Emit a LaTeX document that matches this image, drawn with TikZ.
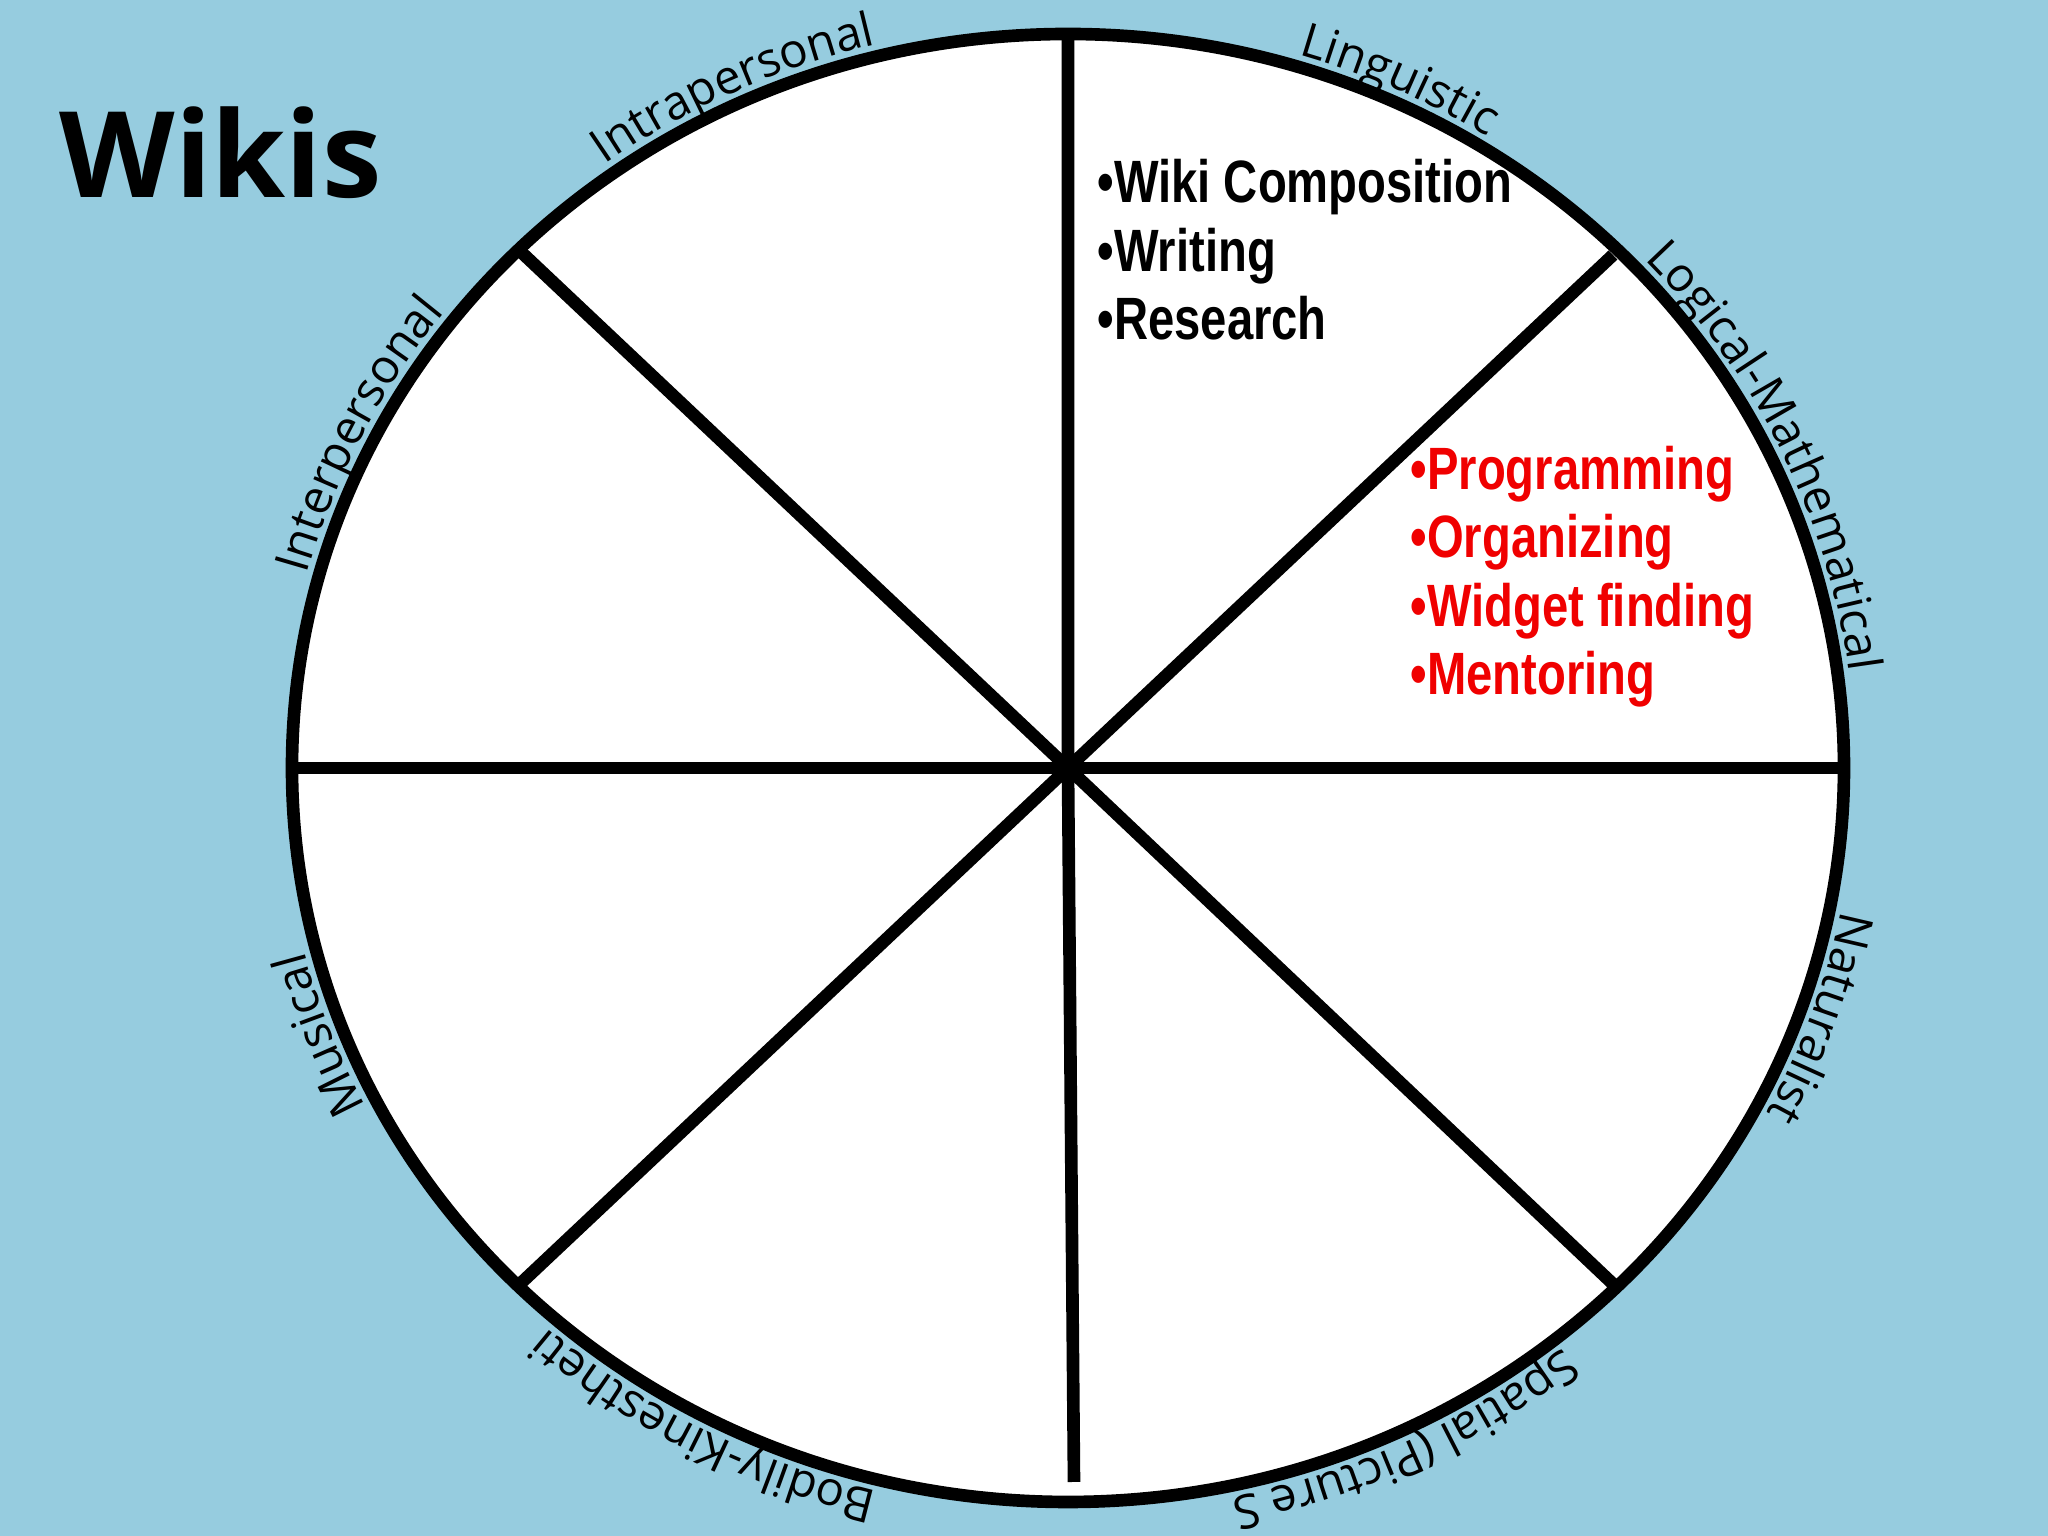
\documentclass[tikz,border=0pt]{standalone}
\usepackage{fontspec}
\setmainfont{Open Sans}
\newfontfamily\narrowb[FakeStretch=0.79]{Liberation Sans}
\usetikzlibrary{decorations.text}
\definecolor{bg}{HTML}{96CCDF}
\definecolor{redt}{HTML}{F00000}
\tikzset{spoke/.style={line width=3.6pt}, lbl/.style={decorate,decoration={text along path,text align=left,text={#1}}}}
\newcommand{\lf}{\fontsize{13.5}{14}\selectfont}
\begin{document}
\begin{tikzpicture}
\useasboundingbox (0,0) rectangle (20.48,15.36);
\fill[bg] (0,0) rectangle (20.48,15.36);
\coordinate (c) at (10.68,7.68);
\fill[white,draw=black,line width=3.6pt] (c) ellipse [x radius=7.76, y radius=7.34];
\coordinate (t) at (10.68,14.96);
\coordinate (b) at (10.74,0.54);
\coordinate (l) at (2.92,7.68);
\coordinate (r) at (18.44,7.68);
\coordinate (tl) at (5.20,12.85);
\coordinate (tr) at (16.13,12.81);
\coordinate (bl) at (5.20,2.52);
\coordinate (br) at (16.13,2.52);
\draw[spoke] (t) -- (c) -- (b);
\draw[spoke] (l) -- (r);
\draw[spoke] (tl) -- (c) -- (br);
\draw[spoke] (tr) -- (c) -- (bl);
\foreach \s/\t in {126/Intrapersonal,73/Linguistic,43/Logical-Mathematical,-11/Naturalist,-51/Spatial (Picture S,-104/Bodily-Kinestheti,-153/Musical,165/Interpersonal}{
  \path[lbl={|\lf|\t}] (c) ++(\s:7.88 and 7.46) arc[start angle=\s, delta angle=-60, x radius=7.88, y radius=7.46];
}
\node[anchor=base west,inner sep=0pt,font=\fontsize{34}{34}\selectfont\bfseries] (title) at (0.59,13.38) {Wikis};
\node[anchor=base west,inner sep=0pt,align=left,font=\narrowb\bfseries\fontsize{17}{19.5}\selectfont] (ling) at (10.97,11.96) {•Wiki Composition\\•Writing\\•Research};
\node[anchor=base west,inner sep=0pt,align=left,text=redt,font=\narrowb\bfseries\fontsize{17}{19.5}\selectfont] (log) at (14.10,8.41) {•Programming\\•Organizing\\•Widget finding\\•Mentoring};
\end{tikzpicture}
\end{document}
